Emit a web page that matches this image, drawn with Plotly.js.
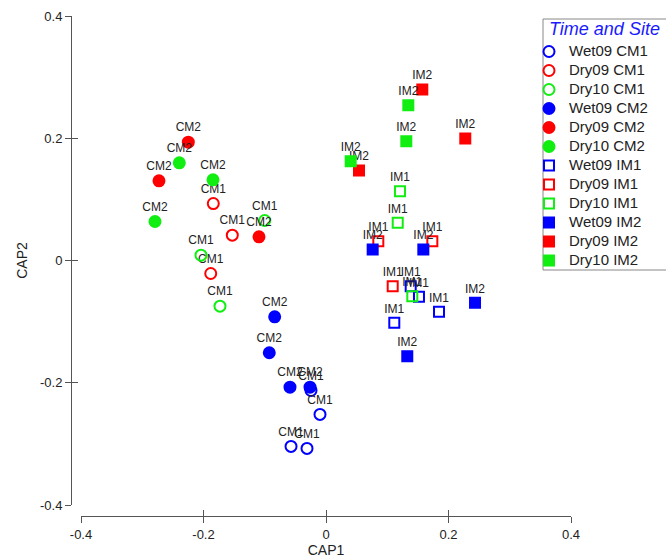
<!DOCTYPE html>
<html>
<head>
<meta charset="utf-8">
<script src="https://cdn.plot.ly/plotly-3.0.1.min.js"></script>
<style>html,body{margin:0;padding:0;background:#fff}#chart{width:666px;height:558px}</style>
</head>
<body>
<div id="chart"></div>
<script>
// ---- data ----
const groupNames = ['Wet09 CM1','Dry09 CM1','Dry10 CM1','Wet09 CM2','Dry09 CM2','Dry10 CM2',
                    'Wet09 IM1','Dry09 IM1','Dry10 IM1','Wet09 IM2','Dry09 IM2','Dry10 IM2'];
const siteLabels = ['CM1','CM1','CM1','CM2','CM2','CM2','IM1','IM1','IM1','IM2','IM2','IM2'];
const legendTitle = 'Time and Site';

const wet09CM1_x = [-0.0245, -0.0098, -0.0571, -0.0310];
const wet09CM1_y = [-0.2126, -0.2518, -0.3042, -0.3074];
const dry09CM1_x = [-0.1840, -0.1530, -0.1882];
const dry09CM1_y = [0.0932, 0.0414, -0.0213];
const dry10CM1_x = [-0.1001, -0.2041, -0.1731];
const dry10CM1_y = [0.0654, 0.0087, -0.0747];
const wet09CM2_x = [-0.0838, -0.0926, -0.0588, -0.0261];
const wet09CM2_y = [-0.0921, -0.1509, -0.2072, -0.2072];
const dry09CM2_x = [-0.2248, -0.2727, -0.1094];
const dry09CM2_y = [0.1935, 0.1303, 0.0388];
const dry10CM2_x = [-0.2395, -0.1845, -0.2792];
const dry10CM2_y = [0.1598, 0.1320, 0.0638];
const wet09IM1_x = [0.1383, 0.1518, 0.1845, 0.1115];
const wet09IM1_y = [-0.0420, -0.0594, -0.0839, -0.1019];
const dry09IM1_x = [0.0854, 0.1736, 0.1089];
const dry09IM1_y = [0.0316, 0.0316, -0.0420];
const dry10IM1_x = [0.1208, 0.1171, 0.1409];
const dry10IM1_y = [0.1133, 0.0617, -0.0584];
const wet09IM2_x = [0.0762, 0.1589, 0.2433, 0.1327];
const wet09IM2_y = [0.0180, 0.0180, -0.0692, -0.1565];
const dry09IM2_x = [0.1572, 0.2274, 0.0539];
const dry09IM2_y = [0.2796, 0.1995, 0.1472];
const dry10IM2_x = [0.1344, 0.1311, 0.0403];
const dry10IM2_y = [0.2540, 0.1951, 0.1624];

const tickValues = [-0.4, -0.2, 0, 0.2, 0.4];
const tickLabels = ['-0.4', '-0.2', '0', '0.2', '0.4'];

// ---- styles ----
const xs = [wet09CM1_x, dry09CM1_x, dry10CM1_x, wet09CM2_x, dry09CM2_x, dry10CM2_x,
            wet09IM1_x, dry09IM1_x, dry10IM1_x, wet09IM2_x, dry09IM2_x, dry10IM2_x];
const ys = [wet09CM1_y, dry09CM1_y, dry10CM1_y, wet09CM2_y, dry09CM2_y, dry10CM2_y,
            wet09IM1_y, dry09IM1_y, dry10IM1_y, wet09IM2_y, dry09IM2_y, dry10IM2_y];
const colors = ['#0000ff','#ff0000','#11ee11'];
const symbols = ['circle-open','circle','square-open','square'];
const sizes = [11, 11, 10, 10];

const FONT = 'Arial, "Liberation Sans", sans-serif';

const traces = groupNames.map((name, i) => {
  const c = colors[i % 3];
  const s = Math.floor(i / 3);
  return {
    type: 'scatter', mode: 'markers+text',
    name: '<span style="font-size:15px">' + name + '</span>',
    x: xs[i], y: ys[i],
    text: xs[i].map(() => siteLabels[i]),
    textposition: 'top center',
    textfont: {family: FONT, size: 12, color: '#222'},
    marker: {symbol: symbols[s], size: sizes[s], color: c, line: {color: c, width: 2}},
    cliponaxis: false
  };
});
// helper trace to host the crossing-tick overlay axes
traces.push({type: 'scatter', x: [], y: [], xaxis: 'x2', yaxis: 'y2', showlegend: false, hoverinfo: 'skip'});

const xDom = [81/666, 571/666];
const yDom = [1 - 505/558, 1 - 16/558];
const axisCommon = {
  range: [-0.4, 0.4], tickvals: tickValues, ticktext: tickLabels,
  showgrid: false, zeroline: false, showline: true, linecolor: '#555', linewidth: 1,
  ticks: 'outside', ticklen: 6, tickcolor: '#555', tickwidth: 1,
  tickfont: {family: FONT, size: 13, color: '#222'}
};

const layout = {
  width: 666, height: 558,
  margin: {l: 0, r: 0, t: 0, b: 0, autoexpand: false},
  paper_bgcolor: '#fff', plot_bgcolor: '#fff',
  font: {family: FONT, color: '#222'},
  xaxis: Object.assign({}, axisCommon, {domain: xDom, anchor: 'free', position: 1 - 516/558,
    title: {text: 'CAP1', font: {family: FONT, size: 14, color: '#222'}, standoff: 4}}),
  yaxis: Object.assign({}, axisCommon, {domain: yDom, anchor: 'free', position: 71/666,
    title: {text: 'CAP2', font: {family: FONT, size: 14, color: '#222'}, standoff: 8}}),
  xaxis2: Object.assign({}, axisCommon, {domain: xDom, anchor: 'free', position: 1 - 516/558,
    overlaying: 'x', ticks: 'inside', showticklabels: false, showline: false}),
  yaxis2: Object.assign({}, axisCommon, {domain: yDom, anchor: 'free', position: 71/666,
    overlaying: 'y', ticks: 'inside', showticklabels: false, showline: false}),
  showlegend: true,
  legend: {
    x: 529/666, y: 1 - 37/558, xanchor: 'left', yanchor: 'top',
    bgcolor: 'rgba(0,0,0,0)', borderwidth: 0,
    font: {family: FONT, size: 12, color: '#222'},
    itemwidth: 30, tracegroupgap: 0
  },
  shapes: [{
    type: 'rect', xref: 'paper', yref: 'paper', layer: 'above',
    x0: 543/666, x1: 1.05, y0: 1 - 270/558, y1: 1 - 19/558,
    line: {color: '#888', width: 1}, fillcolor: '#fff'
  }],
  annotations: [{
    text: legendTitle, xref: 'paper', yref: 'paper', x: 547/666, y: 1 - 29/558,
    xanchor: 'left', yanchor: 'middle', showarrow: false,
    font: {family: FONT, size: 18, color: '#1a1aff', style: 'italic'}
  }]
};

Plotly.newPlot('chart', traces, layout, {displayModeBar: false, staticPlot: true});
</script>
</body>
</html>
